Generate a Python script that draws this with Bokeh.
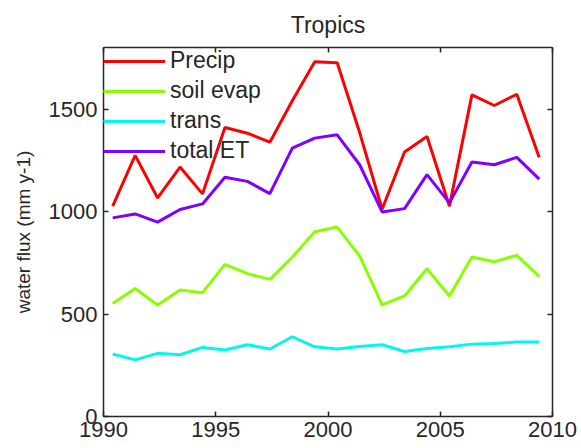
from bokeh.plotting import figure
from bokeh.models import (LinearAxis, FixedTicker, Range1d, Legend, LegendItem,
                          CustomJSTickFormatter)
from bokeh.embed import file_html
from bokeh.resources import INLINE

# Annual water fluxes over the tropics (mm per year)
years = list(range(1990, 2010))
precip = [1026, 1274, 1066, 1217, 1086, 1410, 1382, 1338, 1540, 1731,
          1726, 1385, 1011, 1290, 1366, 1026, 1569, 1517, 1572, 1264]
soil_evap = [551, 624, 544, 617, 604, 742, 697, 669, 778, 901,
             924, 783, 544, 588, 721, 588, 778, 755, 786, 682]
trans = [305, 276, 308, 301, 337, 324, 350, 329, 389, 340,
         329, 342, 350, 317, 332, 340, 353, 356, 363, 363]
total_et = [969, 988, 948, 1010, 1037, 1167, 1147, 1087, 1309, 1358,
            1374, 1228, 998, 1014, 1180, 1042, 1241, 1228, 1264, 1158]

series_names = ["Precip", "soil evap", "trans", "total ET"]
x_ticks = [1990, 1995, 2000, 2005, 2010]
y_ticks = [0, 500, 1000, 1500]

# each annual value is stamped a little after the start of its year
t = [y + 0.41 for y in years]

FONT = "Liberation Sans"
INK = "#262626"

p = figure(width=581, height=448, x_range=Range1d(1990, 2010), y_range=Range1d(0, 1800),
           output_backend="svg", toolbar_location=None, title="Tropics",
           min_border_left=103, min_border_right=29, min_border_top=47,
           min_border_bottom=32)
p.grid.visible = False
p.outline_line_color = None
p.background_fill_color = "white"
p.border_fill_color = "white"

p.title.align = "center"
p.title.text_font = FONT
p.title.text_font_size = "23px"
p.title.text_font_style = "normal"
p.title.text_color = INK
p.title.standoff = 19

colors = ["#ff0000", "#88ff00", "#00f8ec", "#7f00ff"]
renderers = []
for vals, c in zip([precip, soil_evap, trans, total_et], colors):
    renderers.append(p.line(t, vals, line_color=c, line_width=3))


def style_axis(ax, ticks, show_labels):
    ax.ticker = FixedTicker(ticks=ticks)
    ax.axis_line_color = INK
    ax.axis_line_width = 1.5
    ax.major_tick_line_color = INK
    ax.major_tick_line_width = 1.5
    ax.major_tick_in = 5
    ax.major_tick_out = 0
    ax.minor_tick_line_color = None
    ax.major_label_text_font = FONT
    ax.major_label_text_font_size = "22px"
    ax.major_label_text_color = INK
    if not show_labels:
        ax.formatter = CustomJSTickFormatter(code="return ''")
        ax.major_label_standoff = 0


xb = p.xaxis[0]
style_axis(xb, x_ticks, True)
xb.major_label_standoff = 5

yl = p.yaxis[0]
style_axis(yl, y_ticks, True)
yl.major_label_standoff = 6
yl.axis_label = "water flux (mm y-1)"
yl.axis_label_text_font = FONT
yl.axis_label_text_font_size = "19px"
yl.axis_label_text_font_style = "normal"
yl.axis_label_text_color = INK
yl.axis_label_standoff = 12

top = LinearAxis()
style_axis(top, x_ticks, False)
p.add_layout(top, "above")
right = LinearAxis()
style_axis(right, y_ticks, False)
p.add_layout(right, "right")

# legend sits in the upper-left corner, tight against the frame edge
legend = Legend(items=[LegendItem(label=n, renderers=[r]) for n, r in zip(series_names, renderers)],
                location="top_left", border_line_color=None, background_fill_alpha=0,
                label_text_font=FONT, label_text_font_size="23px", label_text_color=INK,
                glyph_width=62, glyph_height=16, spacing=3,
                padding=0, margin=0, label_standoff=5)
p.add_layout(legend)

open("out.html", "w").write(file_html(p, INLINE))
